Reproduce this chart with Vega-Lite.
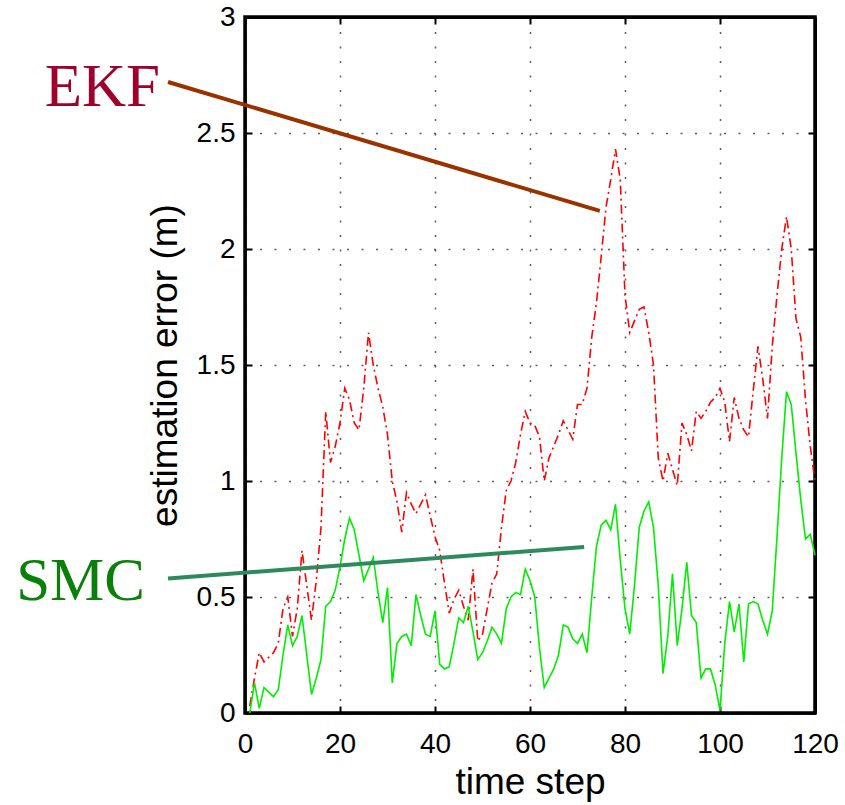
{
  "$schema": "https://vega.github.io/schema/vega-lite/v6.json",
  "width": 570,
  "height": 696,
  "autosize": {"type": "none"},
  "padding": {"left": 245, "top": 17, "right": 30, "bottom": 92},
  "background": "white",
  "config": {
    "view": {"stroke": null},
    "axis": {
      "domainColor": "black", "domainWidth": 2.5,
      "tickColor": "black", "tickWidth": 2, "tickSize": -7,
      "labelFont": "Liberation Sans", "labelFontSize": 28, "labelColor": "black", "labelFlush": false, "labelOverlap": false,
      "titleFont": "Liberation Sans", "titleFontSize": 37, "titleFontWeight": "normal", "titleColor": "black",
      "gridColor": "#333333", "gridDash": [2, 12.5], "gridWidth": 1.5, "gridOpacity": 0.8
    }
  },
  "datasets": {
    "series": [
      {"t":1,"err":0.03,"method":"EKF"},{"t":2,"err":0.15,"method":"EKF"},{"t":3,"err":0.26,"method":"EKF"},{"t":4,"err":0.22,"method":"EKF"},{"t":5,"err":0.24,"method":"EKF"},
      {"t":6,"err":0.26,"method":"EKF"},{"t":7,"err":0.3,"method":"EKF"},{"t":8,"err":0.45,"method":"EKF"},{"t":9,"err":0.5,"method":"EKF"},{"t":10,"err":0.33,"method":"EKF"},
      {"t":11,"err":0.45,"method":"EKF"},{"t":12,"err":0.7,"method":"EKF"},{"t":13,"err":0.55,"method":"EKF"},{"t":14,"err":0.4,"method":"EKF"},{"t":15,"err":0.57,"method":"EKF"},
      {"t":16,"err":0.8,"method":"EKF"},{"t":17,"err":1.3,"method":"EKF"},{"t":18,"err":1.08,"method":"EKF"},{"t":19,"err":1.15,"method":"EKF"},{"t":20,"err":1.25,"method":"EKF"},
      {"t":21,"err":1.4,"method":"EKF"},{"t":22,"err":1.35,"method":"EKF"},{"t":23,"err":1.25,"method":"EKF"},{"t":24,"err":1.22,"method":"EKF"},{"t":25,"err":1.4,"method":"EKF"},
      {"t":26,"err":1.64,"method":"EKF"},{"t":27,"err":1.5,"method":"EKF"},{"t":28,"err":1.4,"method":"EKF"},{"t":29,"err":1.32,"method":"EKF"},{"t":30,"err":1.2,"method":"EKF"},
      {"t":31,"err":1.0,"method":"EKF"},{"t":32,"err":0.91,"method":"EKF"},{"t":33,"err":0.78,"method":"EKF"},{"t":34,"err":0.95,"method":"EKF"},{"t":35,"err":0.9,"method":"EKF"},
      {"t":36,"err":0.86,"method":"EKF"},{"t":37,"err":0.9,"method":"EKF"},{"t":38,"err":0.94,"method":"EKF"},{"t":39,"err":0.85,"method":"EKF"},{"t":40,"err":0.76,"method":"EKF"},
      {"t":41,"err":0.7,"method":"EKF"},{"t":42,"err":0.56,"method":"EKF"},{"t":43,"err":0.43,"method":"EKF"},{"t":44,"err":0.49,"method":"EKF"},{"t":45,"err":0.53,"method":"EKF"},
      {"t":46,"err":0.46,"method":"EKF"},{"t":47,"err":0.4,"method":"EKF"},{"t":48,"err":0.62,"method":"EKF"},{"t":49,"err":0.31,"method":"EKF"},{"t":50,"err":0.34,"method":"EKF"},
      {"t":51,"err":0.45,"method":"EKF"},{"t":52,"err":0.56,"method":"EKF"},{"t":53,"err":0.6,"method":"EKF"},{"t":54,"err":0.8,"method":"EKF"},{"t":55,"err":0.96,"method":"EKF"},
      {"t":56,"err":1.0,"method":"EKF"},{"t":57,"err":1.08,"method":"EKF"},{"t":58,"err":1.2,"method":"EKF"},{"t":59,"err":1.3,"method":"EKF"},{"t":60,"err":1.25,"method":"EKF"},
      {"t":61,"err":1.24,"method":"EKF"},{"t":62,"err":1.19,"method":"EKF"},{"t":63,"err":1.0,"method":"EKF"},{"t":64,"err":1.1,"method":"EKF"},{"t":65,"err":1.15,"method":"EKF"},
      {"t":66,"err":1.2,"method":"EKF"},{"t":67,"err":1.26,"method":"EKF"},{"t":68,"err":1.22,"method":"EKF"},{"t":69,"err":1.18,"method":"EKF"},{"t":70,"err":1.33,"method":"EKF"},
      {"t":71,"err":1.33,"method":"EKF"},{"t":72,"err":1.4,"method":"EKF"},{"t":73,"err":1.62,"method":"EKF"},{"t":74,"err":1.77,"method":"EKF"},{"t":75,"err":1.97,"method":"EKF"},
      {"t":76,"err":2.18,"method":"EKF"},{"t":77,"err":2.3,"method":"EKF"},{"t":78,"err":2.43,"method":"EKF"},{"t":79,"err":2.3,"method":"EKF"},{"t":80,"err":1.8,"method":"EKF"},
      {"t":81,"err":1.64,"method":"EKF"},{"t":82,"err":1.69,"method":"EKF"},{"t":83,"err":1.74,"method":"EKF"},{"t":84,"err":1.75,"method":"EKF"},{"t":85,"err":1.64,"method":"EKF"},
      {"t":86,"err":1.5,"method":"EKF"},{"t":87,"err":1.1,"method":"EKF"},{"t":88,"err":1.0,"method":"EKF"},{"t":89,"err":1.12,"method":"EKF"},{"t":90,"err":1.05,"method":"EKF"},
      {"t":91,"err":0.98,"method":"EKF"},{"t":92,"err":1.25,"method":"EKF"},{"t":93,"err":1.2,"method":"EKF"},{"t":94,"err":1.13,"method":"EKF"},{"t":95,"err":1.3,"method":"EKF"},
      {"t":96,"err":1.27,"method":"EKF"},{"t":97,"err":1.3,"method":"EKF"},{"t":98,"err":1.34,"method":"EKF"},{"t":99,"err":1.36,"method":"EKF"},{"t":100,"err":1.4,"method":"EKF"},
      {"t":101,"err":1.34,"method":"EKF"},{"t":102,"err":1.17,"method":"EKF"},{"t":103,"err":1.36,"method":"EKF"},{"t":104,"err":1.27,"method":"EKF"},{"t":105,"err":1.22,"method":"EKF"},
      {"t":106,"err":1.19,"method":"EKF"},{"t":107,"err":1.39,"method":"EKF"},{"t":108,"err":1.58,"method":"EKF"},{"t":109,"err":1.44,"method":"EKF"},{"t":110,"err":1.27,"method":"EKF"},
      {"t":111,"err":1.58,"method":"EKF"},{"t":112,"err":1.8,"method":"EKF"},{"t":113,"err":2.0,"method":"EKF"},{"t":114,"err":2.14,"method":"EKF"},{"t":115,"err":2.0,"method":"EKF"},
      {"t":116,"err":1.7,"method":"EKF"},{"t":117,"err":1.62,"method":"EKF"},{"t":118,"err":1.35,"method":"EKF"},{"t":119,"err":1.15,"method":"EKF"},{"t":120,"err":1.0,"method":"EKF"},
      {"t":1,"err":0.0,"method":"SMC"},{"t":2,"err":0.13,"method":"SMC"},{"t":3,"err":0.02,"method":"SMC"},{"t":4,"err":0.11,"method":"SMC"},{"t":5,"err":0.09,"method":"SMC"},
      {"t":6,"err":0.07,"method":"SMC"},{"t":7,"err":0.1,"method":"SMC"},{"t":8,"err":0.25,"method":"SMC"},{"t":9,"err":0.38,"method":"SMC"},{"t":10,"err":0.29,"method":"SMC"},
      {"t":11,"err":0.33,"method":"SMC"},{"t":12,"err":0.42,"method":"SMC"},{"t":13,"err":0.25,"method":"SMC"},{"t":14,"err":0.08,"method":"SMC"},{"t":15,"err":0.15,"method":"SMC"},
      {"t":16,"err":0.23,"method":"SMC"},{"t":17,"err":0.46,"method":"SMC"},{"t":18,"err":0.48,"method":"SMC"},{"t":19,"err":0.53,"method":"SMC"},{"t":20,"err":0.63,"method":"SMC"},
      {"t":21,"err":0.75,"method":"SMC"},{"t":22,"err":0.84,"method":"SMC"},{"t":23,"err":0.79,"method":"SMC"},{"t":24,"err":0.68,"method":"SMC"},{"t":25,"err":0.57,"method":"SMC"},
      {"t":26,"err":0.62,"method":"SMC"},{"t":27,"err":0.67,"method":"SMC"},{"t":28,"err":0.52,"method":"SMC"},{"t":29,"err":0.39,"method":"SMC"},{"t":30,"err":0.54,"method":"SMC"},
      {"t":31,"err":0.13,"method":"SMC"},{"t":32,"err":0.3,"method":"SMC"},{"t":33,"err":0.33,"method":"SMC"},{"t":34,"err":0.34,"method":"SMC"},{"t":35,"err":0.29,"method":"SMC"},
      {"t":36,"err":0.51,"method":"SMC"},{"t":37,"err":0.42,"method":"SMC"},{"t":38,"err":0.34,"method":"SMC"},{"t":39,"err":0.33,"method":"SMC"},{"t":40,"err":0.44,"method":"SMC"},
      {"t":41,"err":0.21,"method":"SMC"},{"t":42,"err":0.19,"method":"SMC"},{"t":43,"err":0.2,"method":"SMC"},{"t":44,"err":0.3,"method":"SMC"},{"t":45,"err":0.41,"method":"SMC"},
      {"t":46,"err":0.39,"method":"SMC"},{"t":47,"err":0.46,"method":"SMC"},{"t":48,"err":0.35,"method":"SMC"},{"t":49,"err":0.23,"method":"SMC"},{"t":50,"err":0.26,"method":"SMC"},
      {"t":51,"err":0.31,"method":"SMC"},{"t":52,"err":0.37,"method":"SMC"},{"t":53,"err":0.34,"method":"SMC"},{"t":54,"err":0.3,"method":"SMC"},{"t":55,"err":0.45,"method":"SMC"},
      {"t":56,"err":0.5,"method":"SMC"},{"t":57,"err":0.52,"method":"SMC"},{"t":58,"err":0.51,"method":"SMC"},{"t":59,"err":0.62,"method":"SMC"},{"t":60,"err":0.57,"method":"SMC"},
      {"t":61,"err":0.5,"method":"SMC"},{"t":62,"err":0.28,"method":"SMC"},{"t":63,"err":0.11,"method":"SMC"},{"t":64,"err":0.15,"method":"SMC"},{"t":65,"err":0.19,"method":"SMC"},
      {"t":66,"err":0.25,"method":"SMC"},{"t":67,"err":0.38,"method":"SMC"},{"t":68,"err":0.37,"method":"SMC"},{"t":69,"err":0.32,"method":"SMC"},{"t":70,"err":0.3,"method":"SMC"},
      {"t":71,"err":0.34,"method":"SMC"},{"t":72,"err":0.26,"method":"SMC"},{"t":73,"err":0.5,"method":"SMC"},{"t":74,"err":0.72,"method":"SMC"},{"t":75,"err":0.81,"method":"SMC"},
      {"t":76,"err":0.83,"method":"SMC"},{"t":77,"err":0.79,"method":"SMC"},{"t":78,"err":0.9,"method":"SMC"},{"t":79,"err":0.66,"method":"SMC"},{"t":80,"err":0.45,"method":"SMC"},
      {"t":81,"err":0.34,"method":"SMC"},{"t":82,"err":0.55,"method":"SMC"},{"t":83,"err":0.8,"method":"SMC"},{"t":84,"err":0.87,"method":"SMC"},{"t":85,"err":0.91,"method":"SMC"},
      {"t":86,"err":0.8,"method":"SMC"},{"t":87,"err":0.55,"method":"SMC"},{"t":88,"err":0.17,"method":"SMC"},{"t":89,"err":0.33,"method":"SMC"},{"t":90,"err":0.6,"method":"SMC"},
      {"t":91,"err":0.29,"method":"SMC"},{"t":92,"err":0.45,"method":"SMC"},{"t":93,"err":0.65,"method":"SMC"},{"t":94,"err":0.42,"method":"SMC"},{"t":95,"err":0.39,"method":"SMC"},
      {"t":96,"err":0.15,"method":"SMC"},{"t":97,"err":0.19,"method":"SMC"},{"t":98,"err":0.19,"method":"SMC"},{"t":99,"err":0.12,"method":"SMC"},{"t":100,"err":0.01,"method":"SMC"},
      {"t":101,"err":0.3,"method":"SMC"},{"t":102,"err":0.48,"method":"SMC"},{"t":103,"err":0.35,"method":"SMC"},{"t":104,"err":0.47,"method":"SMC"},{"t":105,"err":0.22,"method":"SMC"},
      {"t":106,"err":0.47,"method":"SMC"},{"t":107,"err":0.48,"method":"SMC"},{"t":108,"err":0.47,"method":"SMC"},{"t":109,"err":0.4,"method":"SMC"},{"t":110,"err":0.34,"method":"SMC"},
      {"t":111,"err":0.44,"method":"SMC"},{"t":112,"err":0.76,"method":"SMC"},{"t":113,"err":1.1,"method":"SMC"},{"t":114,"err":1.385,"method":"SMC"},{"t":115,"err":1.33,"method":"SMC"},
      {"t":116,"err":1.12,"method":"SMC"},{"t":117,"err":0.92,"method":"SMC"},{"t":118,"err":0.75,"method":"SMC"},{"t":119,"err":0.77,"method":"SMC"},{"t":120,"err":0.68,"method":"SMC"}
    ],
    "ann": [
      {"label":"EKF","t":-16.2,"err":2.72},{"label":"EKF","t":74.7,"err":2.164},
      {"label":"SMC","t":-16.2,"err":0.58},{"label":"SMC","t":71.4,"err":0.716}
    ],
    "names": [
      {"label":"EKF","t":-17.9,"err":2.616},
      {"label":"SMC","t":-21.05,"err":0.487}
    ]
  },
  "resolve": {"axis": {"x": "independent", "y": "independent"}},
  "layer": [
    {
      "data": {"values": [{"box": "frame"}]},
      "mark": {"type": "rect", "fillOpacity": 0, "stroke": "#000000", "strokeWidth": 3.5, "clip": false},
      "encoding": {
        "x": {"datum": 0, "type": "quantitative", "scale": {"domain": [0, 120], "nice": false, "zero": false},
              "axis": {"orient": "top", "values": [0, 20, 40, 60, 80, 100, 120], "labelExpr": "''", "title": null, "grid": false, "domain": true, "domainColor": "#000000", "domainWidth": 3}},
        "x2": {"datum": 120},
        "y": {"datum": 0, "type": "quantitative", "scale": {"domain": [0, 3], "nice": false, "zero": false},
              "axis": {"orient": "right", "values": [0, 0.5, 1, 1.5, 2, 2.5, 3], "labelExpr": "''", "title": null, "grid": false, "domain": true, "domainColor": "#000000", "domainWidth": 3}},
        "y2": {"datum": 3}
      }
    },
    {
      "data": {"name": "series"},
      "transform": [{"filter": "datum.method === 'EKF'"}],
      "mark": {"type": "line", "color": "#ff0000", "strokeWidth": 1.6, "strokeDash": [9, 4, 2, 4]},
      "encoding": {
        "x": {"field": "t", "type": "quantitative", "scale": {"domain": [0, 120], "nice": false, "zero": false},
              "axis": {"values": [0, 20, 40, 60, 80, 100, 120], "title": "time step", "labelPadding": 24, "titlePadding": 6, "grid": true}},
        "y": {"field": "err", "type": "quantitative", "scale": {"domain": [0, 3], "nice": false, "zero": false},
              "axis": {"values": [0, 0.5, 1, 1.5, 2, 2.5, 3], "labelExpr": "'' + datum.value", "title": "estimation error (m)", "labelPadding": 17, "titlePadding": 12, "grid": true}}
      }
    },
    {
      "data": {"name": "series"},
      "transform": [{"filter": "datum.method === 'SMC'"}],
      "mark": {"type": "line", "color": "#00ee00", "strokeWidth": 1.6},
      "encoding": {
        "x": {"field": "t", "type": "quantitative", "scale": {"domain": [0, 120], "nice": false, "zero": false}, "axis": null},
        "y": {"field": "err", "type": "quantitative", "scale": {"domain": [0, 3], "nice": false, "zero": false}, "axis": null}
      }
    },
    {
      "data": {"name": "ann"},
      "transform": [{"filter": "datum.label === 'EKF'"}],
      "mark": {"type": "line", "color": "#9a3200", "strokeWidth": 4, "clip": false},
      "encoding": {
        "x": {"field": "t", "type": "quantitative", "scale": {"domain": [0, 120], "nice": false, "zero": false}, "axis": null},
        "y": {"field": "err", "type": "quantitative", "scale": {"domain": [0, 3], "nice": false, "zero": false}, "axis": null}
      }
    },
    {
      "data": {"name": "ann"},
      "transform": [{"filter": "datum.label === 'SMC'"}],
      "mark": {"type": "line", "color": "#2e8a5c", "strokeWidth": 4, "clip": false},
      "encoding": {
        "x": {"field": "t", "type": "quantitative", "scale": {"domain": [0, 120], "nice": false, "zero": false}, "axis": null},
        "y": {"field": "err", "type": "quantitative", "scale": {"domain": [0, 3], "nice": false, "zero": false}, "axis": null}
      }
    },
    {
      "data": {"name": "names"},
      "mark": {"type": "text", "font": "Liberation Serif", "fontSize": 61, "align": "right", "baseline": "alphabetic", "clip": false},
      "encoding": {
        "x": {"field": "t", "type": "quantitative", "scale": {"domain": [0, 120], "nice": false, "zero": false}, "axis": null},
        "y": {"field": "err", "type": "quantitative", "scale": {"domain": [0, 3], "nice": false, "zero": false}, "axis": null},
        "text": {"field": "label"},
        "color": {"field": "label", "type": "nominal", "scale": {"domain": ["EKF", "SMC"], "range": ["#a0002c", "#0a800a"]}, "legend": null}
      }
    }
  ]
}
